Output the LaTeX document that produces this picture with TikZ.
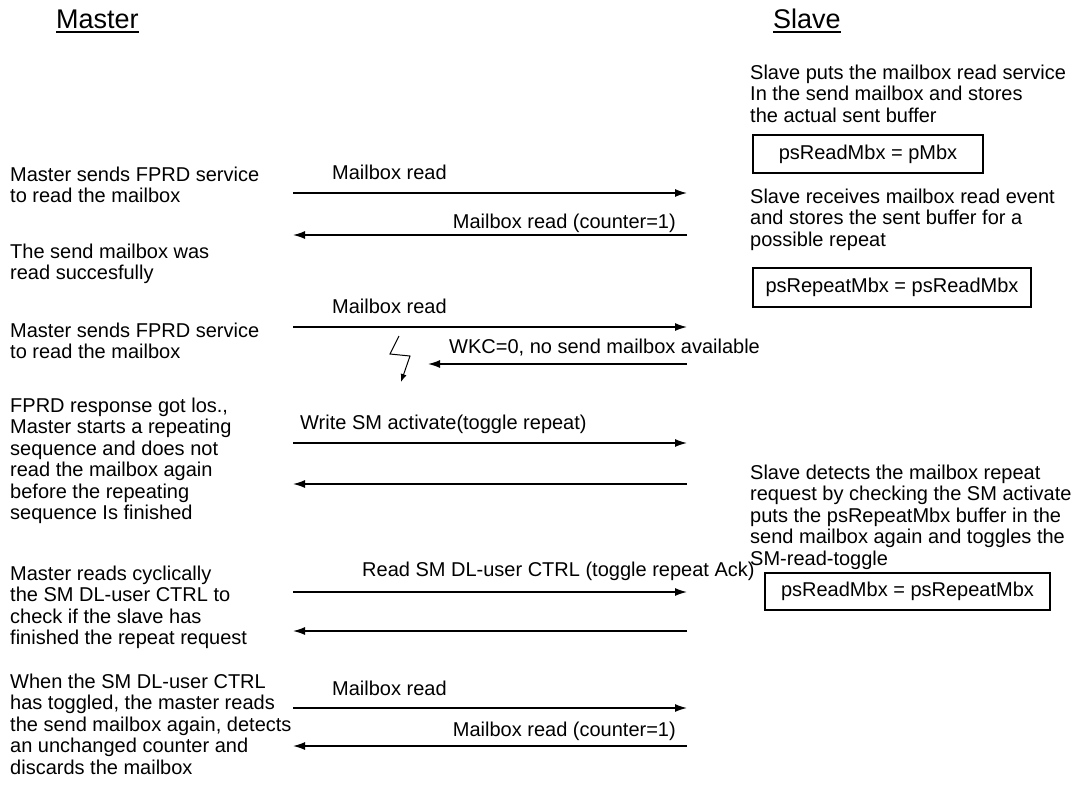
\documentclass[tikz,border=0pt]{standalone}
\usepackage{fontspec}
\setmainfont{Liberation Sans}
\usetikzlibrary{arrows.meta}
\begin{document}
\begin{tikzpicture}[x=1pt,y=-1pt,
  txt/.style={anchor=north west, inner sep=0pt, align=left, font=\fontsize{20}{21.5}\selectfont},
  lbl/.style={inner sep=0pt, font=\fontsize{20}{22}\selectfont},
  ttl/.style={anchor=base west, inner sep=0pt, font=\fontsize{27}{30}\selectfont},
  msg/.style={line width=1.4pt, -{Latex[length=12pt,width=8pt]}},
  bolt/.style={line width=1pt, -{Latex[length=8pt,width=6pt]}},
  regbox/.style={draw, line width=1.1pt, inner sep=0pt, font=\fontsize{20}{22}\selectfont}]
\useasboundingbox (0,0) rectangle (1075,787);

% titles
\node[ttl] (master) at (56,28) {Master};
\node[ttl] (slave) at (773,28) {Slave};
\draw[line width=2pt] ([yshift=-3.5pt]master.base west) -- ([yshift=-3.5pt]master.base east);
\draw[line width=2pt] ([yshift=-3.5pt]slave.base west) -- ([yshift=-3.5pt]slave.base east);

% master texts
\node[txt] (b1) at (10,166.5) {Master sends FPRD service\\to read the mailbox};
\node[txt] (b2) at (10,243.5) {The send mailbox was\\read succesfully};
\node[txt] (b3) at (10,322.5) {Master sends FPRD service\\to read the mailbox};
\node[txt] (b4) at (10,397.5) {FPRD response got los.,\\Master starts a repeating\\sequence and does not\\read the mailbox again\\before the repeating\\sequence Is finished};
\node[txt] (b5) at (10,565.5) {Master reads cyclically\\the SM DL-user CTRL to\\check if the slave has\\finished the repeat request};
\node[txt] (b6) at (10,673.5) {When the SM DL-user CTRL\\has toggled, the master reads\\the send mailbox again, detects\\an unchanged counter and\\discards the mailbox};

% slave texts
\node[txt] (r1) at (750,64.5) {Slave puts the mailbox read service\\In the send mailbox and stores\\the actual sent buffer};
\node[txt] (r2) at (750,188.5) {Slave receives mailbox read event\\and stores the sent buffer for a\\possible repeat};
\node[txt] (r3) at (750,464.5) {Slave detects the mailbox repeat\\request by checking the SM activate\\puts the psRepeatMbx buffer in the\\send mailbox again and toggles the\\SM-read-toggle};

% boxes
\node[regbox, minimum width=230pt, minimum height=38pt] (x1) at (868,154) {psReadMbx = pMbx};
\node[regbox, minimum width=278pt, minimum height=39pt] (x2) at (892,287.5) {psRepeatMbx = psReadMbx};
\node[regbox, minimum width=285pt, minimum height=37pt] (x3) at (907.5,591.5) {psReadMbx = psRepeatMbx};

% endpoints
\coordinate (m1) at (293,193); \coordinate (s1) at (687,193);
\coordinate (m2) at (293,235); \coordinate (s2) at (687,235);
\coordinate (m3) at (293,327); \coordinate (s3) at (687,327);
\coordinate (m4) at (428,364); \coordinate (s4) at (687,364);
\coordinate (m5) at (293,443); \coordinate (s5) at (687,443);
\coordinate (m6) at (293,484); \coordinate (s6) at (687,484);
\coordinate (m7) at (293,592); \coordinate (s7) at (687,592);
\coordinate (m8) at (293,631); \coordinate (s8) at (687,631);
\coordinate (m9) at (293,708); \coordinate (s9) at (687,708);
\coordinate (m10) at (293,746); \coordinate (s10) at (687,746);

\draw[msg] (m1) -- (s1);
\draw[msg] (s2) -- (m2);
\draw[msg] (m3) -- (s3);
\draw[msg] (s4) -- (m4);
\draw[msg] (m5) -- (s5);
\draw[msg] (s6) -- (m6);
\draw[msg] (m7) -- (s7);
\draw[msg] (s8) -- (m8);
\draw[msg] (m9) -- (s9);
\draw[msg] (s10) -- (m10);

% labels
\node[lbl, anchor=base west] (l1) at (332,179) {Mailbox read};
\node[lbl, anchor=base east] (l2) at (676,228) {Mailbox read (counter=1)};
\node[lbl, anchor=base west] (l3) at (332,313) {Mailbox read};
\node[lbl, anchor=base west] (l4) at (449,353) {WKC=0, no send mailbox available};
\node[lbl, anchor=base west] (l5) at (300,429) {Write SM activate(toggle repeat)};
\node[lbl, anchor=base west] (l7) at (362,576) {Read SM DL-user CTRL (toggle repeat Ack)};
\node[lbl, anchor=base west] (l9) at (332,695) {Mailbox read};
\node[lbl, anchor=base east] (l10) at (676,736) {Mailbox read (counter=1)};

% lost message bolt
\coordinate (z1) at (399,336); \coordinate (z2) at (390,354);
\coordinate (z3) at (410,356); \coordinate (z4) at (401,382);
\draw[bolt] (z1) -- (z2) -- (z3) -- (z4);
\end{tikzpicture}
\end{document}
